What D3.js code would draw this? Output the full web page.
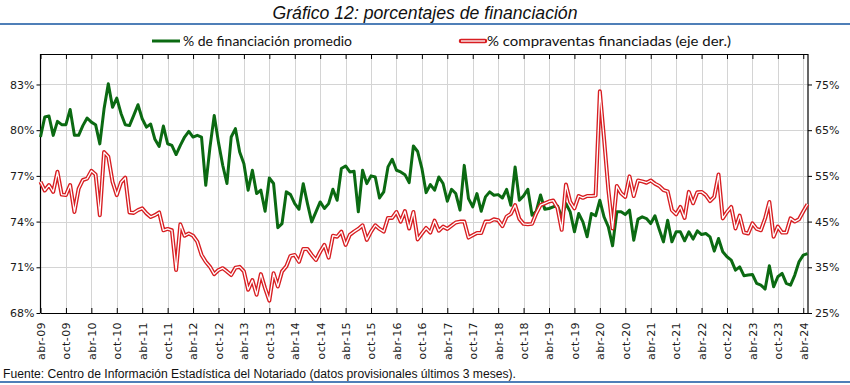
<!DOCTYPE html>
<html lang="es">
<head>
<meta charset="UTF-8">
<title>Gráfico 12: porcentajes de financiación</title>
<style>
    body { margin: 0; background: #fff; }
    svg text { font-family: "DejaVu Sans", sans-serif; }
</style>
</head>
<body>
<div id="chart"></div>
<script src="https://d3js.org/d3.v7.min.js"></script>
<script>
    // monthly series, abr-09 .. may-24 (182 months)
    var financiacionPromedio = [
        79.55, 80.86, 80.93, 79.66, 80.58, 80.36, 80.36, 81.36, 79.66, 79.66, 80.3, 80.8,
        80.53, 80.36, 79.1, 81.4, 83.05, 81.5, 82.1, 81.1, 80.36, 80.3, 80.97, 81.67,
        80.75, 80.2, 80.4, 79.4, 78.93, 80.27, 79.11, 79.0, 78.4, 79.0, 79.55, 79.92,
        79.55, 79.66, 79.55, 76.38, 78.9, 80.97, 79.2, 77.7, 76.5, 79.55, 80.1, 78.57,
        77.8, 76.06, 77.37, 75.84, 76.06, 74.68, 76.86, 76.5, 73.6, 73.87, 75.95, 75.77,
        75.18, 74.81, 76.49, 75.18, 73.98, 74.64, 75.29, 74.86, 75.18, 76.12, 75.4, 77.48,
        77.65, 77.26, 77.3, 74.64, 77.37, 76.49, 77.0, 76.93, 75.55, 75.95, 77.59, 78.09,
        77.37, 77.26, 77.08, 76.56, 78.96, 78.6, 77.5, 75.9, 76.43, 76.06, 76.93, 76.5,
        75.34, 76.12, 75.84, 74.75, 77.69, 75.51, 74.97, 75.84, 74.68, 75.62, 75.95, 75.73,
        75.77, 75.55, 76.12, 75.07, 77.59, 75.4, 75.69, 76.12, 74.42, 74.68, 75.75, 74.81,
        74.86, 74.97, 75.03, 74.3, 75.18, 74.64, 73.33, 74.53, 73.98, 73.0, 74.53, 74.38,
        75.4, 74.3, 73.65, 72.41, 74.64, 74.64, 74.46, 74.75, 72.78, 74.16, 74.31, 74.2,
        73.87, 74.38, 73.5, 72.67, 74.09, 72.67, 73.33, 73.33, 72.74, 73.33, 72.85, 73.39,
        73.15, 73.22, 73.0, 72.06, 72.89, 72.02, 71.69, 71.47, 70.81, 71.03, 70.45, 70.49,
        70.53, 69.94, 69.83, 69.57, 71.1, 69.72, 70.38, 70.6, 69.94, 69.83, 70.49, 71.36,
        71.8, 71.9
    ];
    var compraventasFinanciadas = [
        53.7, 51.8, 53.0, 51.5, 55.9, 50.9, 50.8, 53.0, 47.1, 52.2, 54.1, 54.4,
        56.1, 55.3, 46.4, 60.2, 59.2, 53.7, 50.8, 53.6, 54.6, 47.0, 46.9, 47.5,
        47.9, 46.8, 46.0, 46.4, 47.0, 43.1, 43.4, 43.1, 34.4, 44.4, 41.9, 42.4,
        41.9, 40.6, 37.7, 36.2, 35.1, 33.5, 34.4, 34.8, 34.1, 33.3, 34.9, 35.1,
        34.1, 30.1, 32.2, 29.0, 33.5, 30.4, 27.7, 33.7, 30.8, 34.1, 35.2, 37.5,
        37.7, 36.2, 39.0, 39.0, 37.7, 36.6, 38.4, 39.9, 37.1, 41.9, 41.7, 42.8,
        39.9, 42.1, 42.8, 43.4, 44.2, 41.0, 42.8, 44.2, 43.4, 42.8, 45.8, 45.8,
        47.1, 45.0, 47.3, 43.5, 47.1, 41.1, 42.4, 43.6, 42.6, 45.2, 43.0, 43.9,
        43.4, 44.1, 44.8, 45.0, 45.0, 41.5, 42.0, 42.5, 42.5, 45.0, 45.0, 45.5,
        45.3, 44.0, 46.1, 46.7, 48.6, 45.6, 44.5, 44.4, 44.5, 46.8, 48.6, 49.0,
        49.4, 49.6, 48.0, 43.2, 53.1, 49.3, 47.9, 50.6, 50.2, 50.6, 50.6, 50.7,
        73.5, 63.0, 52.0, 43.5, 52.8, 51.2, 50.4, 54.9, 50.6, 54.0, 53.8, 53.5,
        54.0, 53.3, 52.8, 51.9, 51.6, 47.5, 46.6, 48.2, 45.8, 51.5, 49.0, 51.4,
        51.5, 50.8, 49.5, 50.4, 55.3, 45.7, 47.1, 48.2, 43.5, 46.3, 42.6, 42.4,
        44.6, 43.4, 43.1, 45.7, 49.3, 41.7, 43.9, 42.6, 42.6, 45.7, 45.0, 45.5,
        47.2, 48.8
    ];
    var xTickLabels = [
        "abr-09", "oct-09", "abr-10", "oct-10", "abr-11", "oct-11", "abr-12", "oct-12",
        "abr-13", "oct-13", "abr-14", "oct-14", "abr-15", "oct-15", "abr-16", "oct-16",
        "abr-17", "oct-17", "abr-18", "oct-18", "abr-19", "oct-19", "abr-20", "oct-20",
        "abr-21", "oct-21", "abr-22", "oct-22", "abr-23", "oct-23", "abr-24"
    ];
    var leftTicks = [68, 71, 74, 77, 80, 83];
    var rightTicks = [25, 35, 45, 55, 65, 75];
    var seriesNames = ["% de financiación promedio", "% compraventas financiadas (eje der.)"];

    var W = 850, H = 385;
    var plotL = 40.5, plotR = 808, plotT = 54, plotB = 313;
    var green = "#0b6a12";
    var red = "#d81e22";
    var gridColor = "#d4d4d4";

    var svg = d3.select("#chart").append("svg")
        .attr("width", W)
        .attr("height", H);

    var x = d3.scaleLinear().domain([0, financiacionPromedio.length - 1]).range([plotL, plotR - 0.5]);
    var yL = d3.scaleLinear().domain([68, 85]).range([plotB, plotT]);
    var yR = d3.scaleLinear().domain([25, 25 + 170 / 3]).range([plotB, plotT]);
    var tickIdx = d3.range(0, 181, 6);

    // title + blue rules
    svg.append("text")
        .attr("x", 425).attr("y", 19)
        .attr("text-anchor", "middle")
        .attr("textLength", 305).attr("lengthAdjust", "spacingAndGlyphs")
        .style("font-family", "'Liberation Sans Narrow', 'Arial Narrow', 'Liberation Sans', sans-serif")
        .style("font-style", "italic")
        .style("font-size", "18px")
        .style("fill", "#111")
        .text("Gráfico 12: porcentajes de financiación");
    svg.append("line").attr("x1", 0).attr("x2", W).attr("y1", 24).attr("y2", 24)
        .style("stroke", "#4f7fb8").style("stroke-width", 2);
    svg.append("line").attr("x1", 0).attr("x2", W).attr("y1", 382).attr("y2", 382)
        .style("stroke", "#4f7fb8").style("stroke-width", 2);

    // gridlines
    svg.append("g").selectAll("line").data(leftTicks.slice(1)).join("line")
        .attr("x1", plotL).attr("x2", plotR)
        .attr("y1", function (d) { return Math.round(yL(d)) + 0.5; })
        .attr("y2", function (d) { return Math.round(yL(d)) + 0.5; })
        .style("stroke", gridColor).style("stroke-width", 1);
    svg.append("g").selectAll("line").data(tickIdx.slice(1)).join("line")
        .attr("x1", function (d) { return Math.round(x(d)) + 0.5; })
        .attr("x2", function (d) { return Math.round(x(d)) + 0.5; })
        .attr("y1", plotT).attr("y2", plotB)
        .style("stroke", gridColor).style("stroke-width", 1);

    // axes
    var axL = svg.append("g").attr("transform", "translate(" + plotL + ",0)")
        .call(d3.axisLeft(yL).tickValues(leftTicks).tickFormat(function (d) { return d + "%"; })
            .tickSizeInner(4).tickSizeOuter(0).tickPadding(2));
    var axR = svg.append("g").attr("transform", "translate(" + plotR + ",0)")
        .call(d3.axisRight(yR).tickValues(rightTicks).tickFormat(function (d) { return d + "%"; })
            .tickSizeInner(4).tickSizeOuter(0).tickPadding(3));
    var axB = svg.append("g").attr("transform", "translate(0," + plotB + ")")
        .call(d3.axisBottom(x).tickValues(tickIdx).tickFormat(function (d, i) { return xTickLabels[i]; })
            .tickSizeInner(-5).tickSizeOuter(0));
    var axT = svg.append("g").attr("transform", "translate(0," + plotT + ")")
        .call(d3.axisTop(x).tickValues(tickIdx).tickFormat("").tickSizeInner(-5).tickSizeOuter(0));

    axB.selectAll("text")
        .attr("transform", "rotate(-90)")
        .attr("x", -9).attr("y", 0).attr("dy", "0.35em")
        .style("text-anchor", "end")
        .style("letter-spacing", "0.4px");

    [axL, axR, axB, axT].forEach(function (g) {
        g.select(".domain").style("stroke", "#000").style("stroke-width", 1.2);
        g.selectAll(".tick line").style("stroke", "#000");
        g.selectAll("text").style("font-family", "'DejaVu Sans', sans-serif")
            .style("font-size", "11px").style("fill", "#1a1a1a");
    });
    axL.select(".domain").attr("d", "M0," + plotT + "V" + plotB);
    axR.select(".domain").attr("d", "M0," + plotT + "V" + plotB);

    // lines
    var lineL = d3.line().x(function (d, i) { return x(i); }).y(function (d) { return yL(d); });
    var lineR = d3.line().x(function (d, i) { return x(i); }).y(function (d) { return yR(d); });

    svg.append("path").datum(financiacionPromedio)
        .attr("d", lineL)
        .style("fill", "none").style("stroke", green).style("stroke-width", 3)
        .style("stroke-linejoin", "round");
    svg.append("path").datum(compraventasFinanciadas)
        .attr("d", lineR)
        .style("fill", "none").style("stroke", red).style("stroke-width", 4)
        .style("stroke-linejoin", "round");
    svg.append("path").datum(compraventasFinanciadas)
        .attr("d", lineR)
        .style("fill", "none").style("stroke", "#fff").style("stroke-width", 1.3)
        .style("stroke-linejoin", "round");

    // legend
    var legend = svg.append("g");
    legend.append("line").attr("x1", 152).attr("x2", 180).attr("y1", 41).attr("y2", 41)
        .style("stroke", green).style("stroke-width", 3);
    legend.append("text").attr("x", 183).attr("y", 45.5)
        .attr("textLength", 169).attr("lengthAdjust", "spacingAndGlyphs")
        .style("font-family", "Lato, 'Open Sans', sans-serif").style("font-size", "13.5px").style("fill", "#111")
        .text(seriesNames[0]);
    legend.append("line").attr("x1", 461).attr("x2", 485).attr("y1", 41).attr("y2", 41)
        .style("stroke", red).style("stroke-width", 4.5).style("stroke-linecap", "round");
    legend.append("line").attr("x1", 461).attr("x2", 485).attr("y1", 41).attr("y2", 41)
        .style("stroke", "#fff").style("stroke-width", 1.3);
    legend.append("text").attr("x", 487).attr("y", 45.5)
        .attr("textLength", 244).attr("lengthAdjust", "spacingAndGlyphs")
        .style("font-family", "Lato, 'Open Sans', sans-serif").style("font-size", "13.5px").style("fill", "#111")
        .text(seriesNames[1]);

    // source note
    svg.append("text")
        .attr("x", 3).attr("y", 378)
        .attr("textLength", 513).attr("lengthAdjust", "spacingAndGlyphs")
        .style("font-family", "'Liberation Sans Narrow', 'Arial Narrow', 'Liberation Sans', sans-serif")
        .style("font-size", "12px").style("fill", "#111")
        .text("Fuente: Centro de Información Estadística del Notariado (datos provisionales últimos 3 meses).");
</script>
</body>
</html>
